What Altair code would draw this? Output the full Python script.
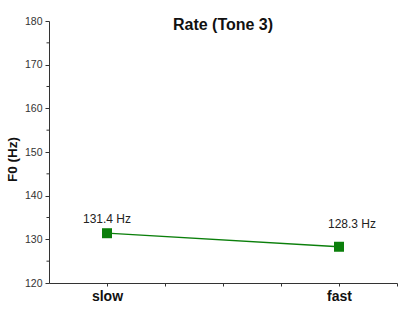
import altair as alt
import pandas as pd

# Mean F0 by speaking rate
rates = ["slow", "fast"]
rate_pos = [1, 5]
f0_values = [131.4, 128.3]
label_dx = [0, 13]
label_dy = [-14, -23]

major_y = [120, 130, 140, 150, 160, 170, 180]
minor_y = [125, 135, 145, 155, 165, 175]
x_ticks = [1, 2, 3, 4, 5, 6]

df = pd.DataFrame({
    "rate": rates,
    "pos": rate_pos,
    "f0": f0_values,
    "label": [f"{v:.1f} Hz" for v in f0_values],
    "dx": label_dx,
    "dy": label_dy,
})
minor_df = pd.DataFrame({"y": minor_y})

green = "#0b7f0b"
xscale = alt.Scale(domain=[0, 6], nice=False, zero=False)
yscale = alt.Scale(domain=[120, 180], nice=False, zero=False)

x_axis = alt.Axis(
    values=x_ticks,
    labelExpr="datum.value == 1 ? 'slow' : datum.value == 5 ? 'fast' : ''",
    title=None, grid=False, tickSize=3, labelPadding=3,
    labelFont="Liberation Sans", labelFontSize=14, labelFontWeight="bold",
    labelColor="#111", domainColor="#333", tickColor="#333",
)
y_axis = alt.Axis(
    values=major_y, title="F0 (Hz)", grid=False, tickSize=4, labelPadding=3,
    labelFont="Liberation Sans", labelFontSize=10.5, labelColor="#333",
    domainColor="#333", tickColor="#333",
    titleFont="Liberation Sans", titleFontSize=13.5, titleFontWeight="bold",
    titleColor="#111", titleAngle=270, titleX=-37, titleY=138,
    titleAlign="center", titleBaseline="middle",
)

base = alt.Chart(df)

line = base.mark_line(color=green, strokeWidth=1.3).encode(
    x=alt.X("pos:Q", scale=xscale, axis=x_axis),
    y=alt.Y("f0:Q", scale=yscale, axis=y_axis),
)
points = base.mark_point(shape="square", size=100, filled=True, color=green, opacity=1).encode(
    x="pos:Q", y="f0:Q"
)
labels = alt.layer(*[
    alt.Chart(df.iloc[[i]]).mark_text(
        font="Liberation Sans", fontSize=12, color="#222",
        dx=int(df.dx[i]), dy=int(df.dy[i]),
    ).encode(x="pos:Q", y="f0:Q", text="label:N")
    for i in range(len(df))
])
minor = alt.Chart(minor_df).mark_rule(color="#333", strokeWidth=1).encode(
    y=alt.Y("y:Q", scale=yscale),
    x=alt.value(-2.5), x2=alt.value(0),
)

chart = alt.layer(minor, line, points, labels).properties(
    width=348, height=262,
    title=alt.TitleParams(
        "Rate (Tone 3)", font="Liberation Sans", fontSize=16, fontWeight="bold",
        color="#111", anchor="middle", offset=-17,
    ),
    background="white",
    autosize=alt.AutoSizeParams(type="none"),
    padding={"left": 49, "top": 21, "right": 3, "bottom": 29},
).configure_view(stroke=None)

chart.save("out.html", embed_options={"renderer": "svg", "actions": False})
